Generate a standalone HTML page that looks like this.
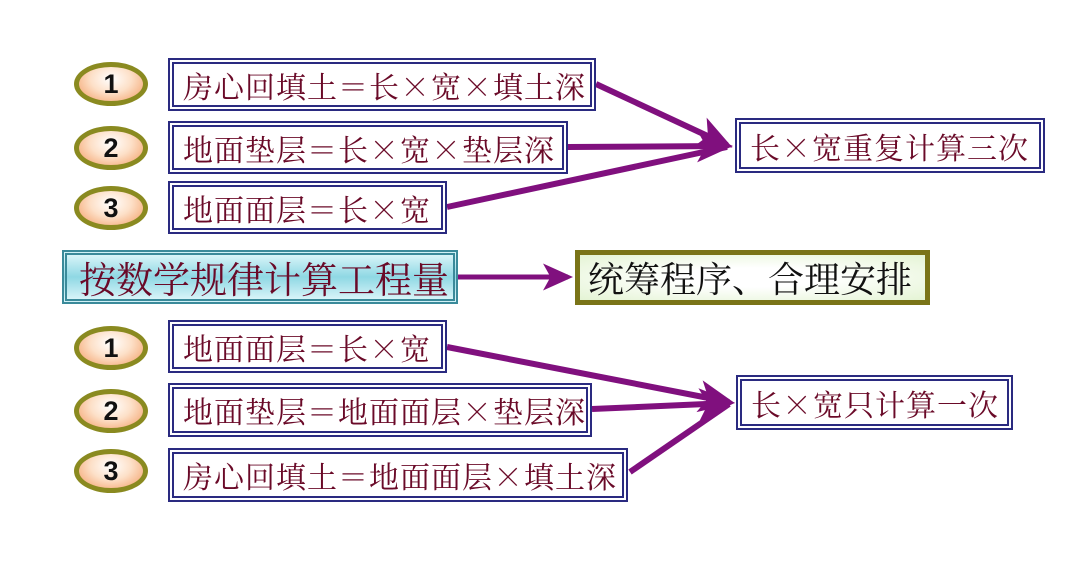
<!DOCTYPE html>
<html><head><meta charset="utf-8"><style>
body{margin:0;width:1084px;height:563px;background:#fff;position:relative;overflow:hidden}
.b{position:absolute;box-sizing:border-box;border:6px double #2a2a80;background:#fff;color:#6a0a28;font-family:"Noto Serif CJK SC","Liberation Serif",serif;font-size:30px;letter-spacing:1px;line-height:1;display:flex;align-items:center;padding-left:9px;white-space:nowrap}
.o{position:absolute;width:74px;height:44px;box-sizing:border-box;border:5px solid #8a8a20;border-radius:50%;background:radial-gradient(ellipse at 50% 35%,#fff 0%,#fde0c8 45%,#f29a60 100%);font-family:"Liberation Sans",sans-serif;font-weight:bold;font-size:27px;text-align:center;line-height:34px;color:#111}
svg{position:absolute;left:0;top:0}
</style></head><body>
<svg width="1084" height="563">
<defs><marker id="a" markerWidth="6" markerHeight="6" refX="5" refY="3" orient="auto" markerUnits="strokeWidth"><path d="M0,0.3 L6,3 L0,5.7 L1.5,3z" fill="#80107e"/></marker></defs>
<g stroke="#80107e" stroke-width="6" fill="none">
<line x1="596" y1="84" x2="727" y2="145" marker-end="url(#a)"/>
<line x1="568" y1="147" x2="727" y2="146" marker-end="url(#a)"/>
<line x1="447" y1="207" x2="727" y2="147"/>
<line x1="458" y1="277" x2="568" y2="277" stroke-width="5" marker-end="url(#a)"/>
<line x1="447" y1="347" x2="729" y2="402" marker-end="url(#a)"/>
<line x1="592" y1="409" x2="729" y2="403" marker-end="url(#a)"/>
<line x1="630" y1="472" x2="729" y2="404"/>
</g></svg>
<div class="o" style="left:74px;top:62px">1</div>
<div class="o" style="left:74px;top:126px">2</div>
<div class="o" style="left:74px;top:186px">3</div>
<div class="o" style="left:74px;top:326px">1</div>
<div class="o" style="left:74px;top:389px">2</div>
<div class="o" style="left:74px;top:449px">3</div>
<div class="b" style="left:168px;top:58px;width:428px;height:53px">房心回填土＝长×宽×填土深</div>
<div class="b" style="left:168px;top:121px;width:400px;height:53px">地面垫层＝长×宽×垫层深</div>
<div class="b" style="left:168px;top:181px;width:279px;height:53px">地面面层＝长×宽</div>
<div class="b" style="left:735px;top:118px;width:310px;height:55px">长×宽重复计算三次</div>
<div class="b" style="left:62px;top:250px;width:396px;height:54px;border:5px double #3a8a9a;background:linear-gradient(#d8f4f8,#8fd8e4 50%,#d8f4f8);font-size:37px;letter-spacing:0;color:#6a0a28;padding-left:12px">按数学规律计算工程量</div>
<div class="b" style="left:575px;top:250px;width:355px;height:55px;border:5px solid #7a7418;background:radial-gradient(ellipse,#fff 30%,#e4f4d4);font-size:36px;letter-spacing:0;color:#111;padding-left:8px">统筹程序、合理安排</div>
<div class="b" style="left:168px;top:320px;width:279px;height:53px">地面面层＝长×宽</div>
<div class="b" style="left:168px;top:383px;width:424px;height:54px">地面垫层＝地面面层×垫层深</div>
<div class="b" style="left:168px;top:448px;width:460px;height:54px">房心回填土＝地面面层×填土深</div>
<div class="b" style="left:736px;top:375px;width:277px;height:55px">长×宽只计算一次</div>
</body></html>
